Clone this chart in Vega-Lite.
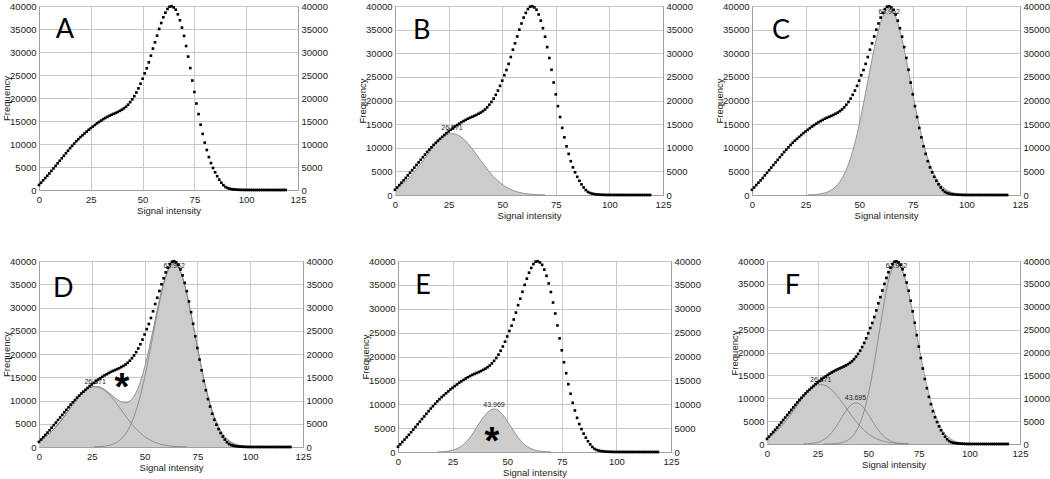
{
  "$schema": "https://vega.github.io/schema/vega-lite/v6.json",
  "padding": 0,
  "background": "white",
  "config": {
    "view": {"stroke": "#a0a0a0", "strokeWidth": 1},
    "axis": {"labelFont": "Liberation Sans", "labelFontSize": 9.5, "labelColor": "#222", "titleFont": "Liberation Sans", "titleFontSize": 9.5, "titleFontWeight": "normal", "titleColor": "#222", "domainColor": "#a0a0a0", "gridColor": "#c8c8c8", "gridWidth": 1, "ticks": false, "tickSize": 0, "labelPadding": 3}
  },
  "datasets": {
    "dots": [
      {"x":0,"y":1100},{"x":1,"y":1600},{"x":2,"y":2100},{"x":3,"y":2600},{"x":4,"y":3100},{"x":5,"y":3600},{"x":6,"y":4150},{"x":7,"y":4700},{"x":8,"y":5250},{"x":9,"y":5800},
      {"x":10,"y":6350},{"x":11,"y":6900},{"x":12,"y":7450},{"x":13,"y":8000},{"x":14,"y":8550},{"x":15,"y":9100},{"x":16,"y":9600},{"x":17,"y":10100},{"x":18,"y":10600},{"x":19,"y":11050},
      {"x":20,"y":11500},{"x":21,"y":11900},{"x":22,"y":12300},{"x":23,"y":12700},{"x":24,"y":13100},{"x":25,"y":13450},{"x":26,"y":13800},{"x":27,"y":14150},{"x":28,"y":14500},{"x":29,"y":14800},
      {"x":30,"y":15100},{"x":31,"y":15400},{"x":32,"y":15650},{"x":33,"y":15900},{"x":34,"y":16150},{"x":35,"y":16350},{"x":36,"y":16550},{"x":37,"y":16750},{"x":38,"y":16950},{"x":39,"y":17200},
      {"x":40,"y":17450},{"x":41,"y":17750},{"x":42,"y":18100},{"x":43,"y":18550},{"x":44,"y":19100},{"x":45,"y":19700},{"x":46,"y":20400},{"x":47,"y":21200},{"x":48,"y":22100},{"x":49,"y":23100},
      {"x":50,"y":24200},{"x":51,"y":25350},{"x":52,"y":26450},{"x":53,"y":27750},{"x":54,"y":29200},{"x":55,"y":30750},{"x":56,"y":32100},{"x":57,"y":33550},{"x":58,"y":35000},{"x":59,"y":36300},
      {"x":60,"y":37550},{"x":61,"y":38550},{"x":62,"y":39350},{"x":63,"y":39850},{"x":64,"y":39950},{"x":65,"y":39700},{"x":66,"y":39200},{"x":67,"y":38200},{"x":68,"y":36900},{"x":69,"y":35300},
      {"x":70,"y":33500},{"x":71,"y":31300},{"x":72,"y":29000},{"x":73,"y":26500},{"x":74,"y":23800},{"x":75,"y":21300},{"x":76,"y":18800},{"x":77,"y":16500},{"x":78,"y":14200},{"x":79,"y":12200},
      {"x":80,"y":10300},{"x":81,"y":8700},{"x":82,"y":7150},{"x":83,"y":5850},{"x":84,"y":4800},{"x":85,"y":3850},{"x":86,"y":3000},{"x":87,"y":2250},{"x":88,"y":1600},{"x":89,"y":1050},
      {"x":90,"y":650},{"x":91,"y":420},{"x":92,"y":280},{"x":93,"y":190},{"x":94,"y":130},{"x":95,"y":90},{"x":96,"y":60},{"x":97,"y":40},{"x":98,"y":25},{"x":99,"y":15},
      {"x":100,"y":10},{"x":101,"y":8},{"x":102,"y":6},{"x":103,"y":5},{"x":104,"y":5},{"x":105,"y":4},{"x":106,"y":4},{"x":107,"y":3},{"x":108,"y":3},{"x":109,"y":3},
      {"x":110,"y":2},{"x":111,"y":2},{"x":112,"y":2},{"x":113,"y":2},{"x":114,"y":1},{"x":115,"y":1},{"x":116,"y":1},{"x":117,"y":1},{"x":118,"y":1},{"x":119,"y":1}
    ],
    "gauss": [
      {"x":0,"g1":1358,"s13":1358},
      {"x":2,"g1":1884,"s13":1884},
      {"x":4,"g1":2547,"s13":2547},
      {"x":6,"g1":3357,"s13":3357},
      {"x":8,"g1":4311,"s13":4311},
      {"x":10,"g1":5399,"s13":5399},
      {"x":12,"g1":6590,"s13":6590},
      {"x":14,"g1":7840,"s13":7840},
      {"x":16,"g1":9092,"s13":9092},
      {"x":18,"g1":10277,"g2":22,"s13":10277},
      {"x":20,"g1":11322,"g2":55,"s13":11322},
      {"x":22,"g1":12159,"g2":123,"s13":12159},
      {"x":24,"g1":12728,"g2":260,"s13":12728},
      {"x":26,"g1":12987,"g2":510,"g3":29,"s13":13016},
      {"x":28,"g1":12916,"g2":933,"g3":61,"g3f":7,"s13":12977},
      {"x":30,"g1":12520,"g2":1590,"g3":124,"g3f":18,"s13":12644},
      {"x":32,"g1":11830,"g2":2519,"g3":239,"g3f":43,"s13":12069},
      {"x":34,"g1":10895,"g2":3721,"g3":444,"g3f":99,"s13":11339},
      {"x":36,"g1":9781,"g2":5117,"g3":792,"g3f":215,"s13":10573},
      {"x":38,"g1":8559,"g2":6557,"g3":1358,"g3f":442,"s13":9917},
      {"x":40,"g1":7301,"g2":7825,"g3":2237,"g3f":859,"s13":9538},
      {"x":42,"g1":6069,"g2":8695,"g3":3543,"g3f":1586,"s13":9612},
      {"x":44,"g1":4918,"g2":9000,"g3":5388,"g3f":2771,"s13":10306},
      {"x":46,"g1":3884,"g2":8676,"g3":7872,"g3f":4598,"s13":11756},
      {"x":48,"g1":2991,"g2":7790,"g3":11048,"g3f":7225,"s13":14039},
      {"x":50,"g1":2245,"g2":6513,"g3":14903,"g3f":10772,"s13":17148},
      {"x":52,"g1":1642,"g2":5073,"g3":19316,"g3f":15215,"s13":20958},
      {"x":54,"g1":1170,"g2":3680,"g3":24048,"g3f":20382,"s13":25218},
      {"x":56,"g1":813,"g2":2486,"g3":28772,"g3f":25884,"s13":29585},
      {"x":58,"g1":551,"g2":1564,"g3":33069,"g3f":31166,"s13":33620},
      {"x":60,"g1":364,"g2":917,"g3":36518,"g3f":35574,"s13":36882},
      {"x":62,"g1":234,"g2":500,"g3":38746,"g3f":38501,"s13":38980},
      {"x":64,"g1":147,"g2":254,"g3":39500,"g3f":39500,"s13":39647},
      {"x":66,"g1":90,"g2":120,"g3":38688,"g3f":38688,"s13":38778},
      {"x":68,"g1":54,"g2":53,"g3":36407,"g3f":36407,"s13":36461},
      {"x":70,"g1":31,"g2":22,"g3":32919,"g3f":32919,"s13":32950},
      {"x":72,"g3":28598,"g3f":28598,"s13":28615},
      {"x":74,"g3":23866,"g3f":23866,"s13":23876},
      {"x":76,"g3":19138,"g3f":19138,"s13":19138},
      {"x":78,"g3":14745,"g3f":14745,"s13":14745},
      {"x":80,"g3":10918,"g3f":10918,"s13":10918},
      {"x":82,"g3":7762,"g3f":7762,"s13":7762},
      {"x":84,"g3":5305,"g3f":5305,"s13":5305},
      {"x":86,"g3":3484,"g3f":3484,"s13":3484},
      {"x":88,"g3":2197,"g3f":2197,"s13":2197},
      {"x":90,"g3":1331,"g3f":1331,"s13":1331},
      {"x":92,"g3":775,"g3f":775,"s13":775},
      {"x":94,"g3":434,"g3f":434,"s13":434},
      {"x":96,"g3":233,"g3f":233,"s13":233},
      {"x":98,"g3":120,"g3f":120,"s13":120},
      {"x":100,"g3":60,"g3f":60,"s13":60}
    ],
    "notes": [
      {"p":"A","k":"L","x":12.5,"y":34700,"t":"A"},
      {"p":"B","k":"L","x":12.5,"y":34800,"t":"B"},
      {"p":"C","k":"L","x":13.5,"y":34700,"t":"C"},
      {"p":"D","k":"L","x":11.5,"y":34000,"t":"D"},
      {"p":"E","k":"L","x":11.5,"y":34700,"t":"E"},
      {"p":"F","k":"L","x":12.5,"y":34600,"t":"F"},
      {"p":"B","k":"P","x":26.571,"y":14100,"t":"26.571"},
      {"p":"C","k":"P","x":63.962,"y":38700,"t":"63.962"},
      {"p":"D","k":"P","x":26.571,"y":13900,"t":"26.571"},
      {"p":"D","k":"P","x":63.962,"y":39000,"t":"63.962"},
      {"p":"E","k":"P","x":43.969,"y":9900,"t":"43.969"},
      {"p":"F","k":"P","x":26.571,"y":13900,"t":"26.571"},
      {"p":"F","k":"P","x":43.695,"y":9950,"t":"43.695"},
      {"p":"F","k":"P","x":63.962,"y":38800,"t":"63.962"},
      {"p":"D","k":"S","x":39.3,"y":14600,"t":"*"},
      {"p":"E","k":"S","x":43,"y":4000,"t":"*"}
    ]
  },
  "spacing": 34,
  "vconcat": [
    {
      "spacing": 19,
      "hconcat": [
        {
          "width": 259, "height": 184,
          "encoding": {"x": {"field":"x","type":"quantitative","scale":{"domain":[0,125],"nice":false,"zero":false},"axis":{"title":"Signal intensity","values":[0,25,50,75,100,125],"format":"d","labelFlush":false,"labelPadding":4,"titlePadding":2}}},
          "resolve": {"axis": {"y": "independent"}},
          "layer": [
            {"data":{"name":"dots"},"mark":{"type":"point","shape":"square","filled":true,"color":"#000","size":7,"opacity":1,"strokeWidth":0},
             "encoding":{"y":{"field":"y","type":"quantitative","scale":{"domain":[0,40000],"nice":false},"axis":{"title":"Frequency","orient":"left","format":"d","values":[0,5000,10000,15000,20000,25000,30000,35000,40000],"grid":true,"minExtent":27,"maxExtent":27,"titlePadding":1}}}},
            {"data":{"name":"notes"},"transform":[{"filter":"datum.p == 'A' && datum.k == 'L'"}],"mark":{"type":"text","font":"Lato","fontSize":27,"color":"#000","align":"center","baseline":"middle"},
             "encoding":{"text":{"field":"t"},"y":{"field":"y","type":"quantitative","scale":{"domain":[0,40000],"nice":false},"axis":{"orient":"right","title":null,"format":"d","values":[0,5000,10000,15000,20000,25000,30000,35000,40000],"grid":false,"minExtent":38,"maxExtent":38}}}}
          ]
        },
        {
          "width": 268, "height": 189,
          "encoding": {"x": {"field":"x","type":"quantitative","scale":{"domain":[0,125],"nice":false,"zero":false},"axis":{"title":"Signal intensity","values":[0,25,50,75,100,125],"format":"d","labelFlush":false,"labelPadding":4,"titlePadding":2}}},
          "resolve": {"axis": {"y": "independent"}},
          "layer": [
            {"data":{"name":"gauss"},"transform":[{"filter":{"field":"g1","valid":true}}],"mark":{"type":"area","color":"#cccccc","opacity":1,"interpolate":"monotone","line":{"color":"#7f7f7f","strokeWidth":0.8}},
             "encoding":{"y":{"field":"g1","type":"quantitative","scale":{"domain":[0,40000],"nice":false},"axis":null}}},
            {"data":{"name":"notes"},"transform":[{"filter":"datum.p == 'B' && datum.k == 'P'"}],"mark":{"type":"text","font":"Liberation Sans","fontSize":7,"color":"#222","align":"center","baseline":"middle"},
             "encoding":{"text":{"field":"t"},"y":{"field":"y","type":"quantitative","scale":{"domain":[0,40000],"nice":false},"axis":null}}},
            {"data":{"name":"dots"},"mark":{"type":"point","shape":"square","filled":true,"color":"#000","size":7,"opacity":1,"strokeWidth":0},
             "encoding":{"y":{"field":"y","type":"quantitative","scale":{"domain":[0,40000],"nice":false},"axis":{"title":"Frequency","orient":"left","format":"d","values":[0,5000,10000,15000,20000,25000,30000,35000,40000],"grid":true,"minExtent":27,"maxExtent":27,"titlePadding":1}}}},
            {"data":{"name":"notes"},"transform":[{"filter":"datum.p == 'B' && datum.k == 'L'"}],"mark":{"type":"text","font":"Lato","fontSize":27,"color":"#000","align":"center","baseline":"middle"},
             "encoding":{"text":{"field":"t"},"y":{"field":"y","type":"quantitative","scale":{"domain":[0,40000],"nice":false},"axis":{"orient":"right","title":null,"format":"d","values":[0,5000,10000,15000,20000,25000,30000,35000,40000],"grid":false,"minExtent":30,"maxExtent":30}}}}
          ]
        },
        {
          "width": 268, "height": 189,
          "encoding": {"x": {"field":"x","type":"quantitative","scale":{"domain":[0,125],"nice":false,"zero":false},"axis":{"title":"Signal intensity","values":[0,25,50,75,100,125],"format":"d","labelFlush":false,"labelPadding":4,"titlePadding":2}}},
          "resolve": {"axis": {"y": "independent"}},
          "layer": [
            {"data":{"name":"gauss"},"transform":[{"filter":{"field":"g3","valid":true}}],"mark":{"type":"area","color":"#cccccc","opacity":1,"interpolate":"monotone","line":{"color":"#7f7f7f","strokeWidth":0.8}},
             "encoding":{"y":{"field":"g3","type":"quantitative","scale":{"domain":[0,40000],"nice":false},"axis":null}}},
            {"data":{"name":"notes"},"transform":[{"filter":"datum.p == 'C' && datum.k == 'P'"}],"mark":{"type":"text","font":"Liberation Sans","fontSize":7,"color":"#222","align":"center","baseline":"middle"},
             "encoding":{"text":{"field":"t"},"y":{"field":"y","type":"quantitative","scale":{"domain":[0,40000],"nice":false},"axis":null}}},
            {"data":{"name":"dots"},"mark":{"type":"point","shape":"square","filled":true,"color":"#000","size":7,"opacity":1,"strokeWidth":0},
             "encoding":{"y":{"field":"y","type":"quantitative","scale":{"domain":[0,40000],"nice":false},"axis":{"title":"Frequency","orient":"left","format":"d","values":[0,5000,10000,15000,20000,25000,30000,35000,40000],"grid":true,"minExtent":27,"maxExtent":27,"titlePadding":1}}}},
            {"data":{"name":"notes"},"transform":[{"filter":"datum.p == 'C' && datum.k == 'L'"}],"mark":{"type":"text","font":"Lato","fontSize":27,"color":"#000","align":"center","baseline":"middle"},
             "encoding":{"text":{"field":"t"},"y":{"field":"y","type":"quantitative","scale":{"domain":[0,40000],"nice":false},"axis":{"orient":"right","title":null,"format":"d","values":[0,5000,10000,15000,20000,25000,30000,35000,40000],"grid":false,"minExtent":30,"maxExtent":30}}}}
          ]
        }
      ]
    },
    {
      "spacing": 20,
      "hconcat": [
        {
          "width": 264, "height": 186,
          "encoding": {"x": {"field":"x","type":"quantitative","scale":{"domain":[0,125],"nice":false,"zero":false},"axis":{"title":"Signal intensity","values":[0,25,50,75,100,125],"format":"d","labelFlush":false,"labelPadding":4,"titlePadding":2}}},
          "resolve": {"axis": {"y": "independent"}},
          "layer": [
            {"data":{"name":"gauss"},"transform":[{"filter":{"field":"s13","valid":true}}],"mark":{"type":"area","color":"#cccccc","opacity":1,"interpolate":"monotone","line":{"color":"#7f7f7f","strokeWidth":0.8}},
             "encoding":{"y":{"field":"s13","type":"quantitative","scale":{"domain":[0,40000],"nice":false},"axis":null}}},
            {"data":{"name":"gauss"},"transform":[{"filter":{"field":"g1","valid":true}}],"mark":{"type":"line","color":"#7f7f7f","strokeWidth":0.8,"interpolate":"monotone"},
             "encoding":{"y":{"field":"g1","type":"quantitative","scale":{"domain":[0,40000],"nice":false},"axis":null}}},
            {"data":{"name":"gauss"},"transform":[{"filter":{"field":"g3","valid":true}}],"mark":{"type":"line","color":"#7f7f7f","strokeWidth":0.8,"interpolate":"monotone"},
             "encoding":{"y":{"field":"g3","type":"quantitative","scale":{"domain":[0,40000],"nice":false},"axis":null}}},
            {"data":{"name":"notes"},"transform":[{"filter":"datum.p == 'D' && datum.k == 'P'"}],"mark":{"type":"text","font":"Liberation Sans","fontSize":7,"color":"#222","align":"center","baseline":"middle"},
             "encoding":{"text":{"field":"t"},"y":{"field":"y","type":"quantitative","scale":{"domain":[0,40000],"nice":false},"axis":null}}},
            {"data":{"name":"dots"},"mark":{"type":"point","shape":"square","filled":true,"color":"#000","size":7,"opacity":1,"strokeWidth":0},
             "encoding":{"y":{"field":"y","type":"quantitative","scale":{"domain":[0,40000],"nice":false},"axis":{"title":"Frequency","orient":"left","format":"d","values":[0,5000,10000,15000,20000,25000,30000,35000,40000],"grid":true,"minExtent":27,"maxExtent":27,"titlePadding":1}}}},
            {"data":{"name":"notes"},"transform":[{"filter":"datum.p == 'D' && datum.k == 'S'"}],"mark":{"type":"text","font":"Liberation Sans","fontSize":38,"fontWeight":"bold","color":"#000","align":"center","baseline":"alphabetic","dy":21},
             "encoding":{"text":{"field":"t"},"y":{"field":"y","type":"quantitative","scale":{"domain":[0,40000],"nice":false},"axis":null}}},
            {"data":{"name":"notes"},"transform":[{"filter":"datum.p == 'D' && datum.k == 'L'"}],"mark":{"type":"text","font":"Lato","fontSize":27,"color":"#000","align":"center","baseline":"middle"},
             "encoding":{"text":{"field":"t"},"y":{"field":"y","type":"quantitative","scale":{"domain":[0,40000],"nice":false},"axis":{"orient":"right","title":null,"format":"d","values":[0,5000,10000,15000,20000,25000,30000,35000,40000],"grid":false,"minExtent":35,"maxExtent":35}}}}
          ]
        },
        {
          "width": 273, "height": 191,
          "encoding": {"x": {"field":"x","type":"quantitative","scale":{"domain":[0,125],"nice":false,"zero":false},"axis":{"title":"Signal intensity","values":[0,25,50,75,100,125],"format":"d","labelFlush":false,"labelPadding":4,"titlePadding":2}}},
          "resolve": {"axis": {"y": "independent"}},
          "layer": [
            {"data":{"name":"gauss"},"transform":[{"filter":{"field":"g2","valid":true}}],"mark":{"type":"area","color":"#cccccc","opacity":1,"interpolate":"monotone","line":{"color":"#7f7f7f","strokeWidth":0.8}},
             "encoding":{"y":{"field":"g2","type":"quantitative","scale":{"domain":[0,40000],"nice":false},"axis":null}}},
            {"data":{"name":"notes"},"transform":[{"filter":"datum.p == 'E' && datum.k == 'P'"}],"mark":{"type":"text","font":"Liberation Sans","fontSize":7,"color":"#222","align":"center","baseline":"middle"},
             "encoding":{"text":{"field":"t"},"y":{"field":"y","type":"quantitative","scale":{"domain":[0,40000],"nice":false},"axis":null}}},
            {"data":{"name":"dots"},"mark":{"type":"point","shape":"square","filled":true,"color":"#000","size":7,"opacity":1,"strokeWidth":0},
             "encoding":{"y":{"field":"y","type":"quantitative","scale":{"domain":[0,40000],"nice":false},"axis":{"title":"Frequency","orient":"left","format":"d","values":[0,5000,10000,15000,20000,25000,30000,35000,40000],"grid":true,"minExtent":27,"maxExtent":27,"titlePadding":1}}}},
            {"data":{"name":"notes"},"transform":[{"filter":"datum.p == 'E' && datum.k == 'S'"}],"mark":{"type":"text","font":"Liberation Sans","fontSize":38,"fontWeight":"bold","color":"#000","align":"center","baseline":"alphabetic","dy":21},
             "encoding":{"text":{"field":"t"},"y":{"field":"y","type":"quantitative","scale":{"domain":[0,40000],"nice":false},"axis":null}}},
            {"data":{"name":"notes"},"transform":[{"filter":"datum.p == 'E' && datum.k == 'L'"}],"mark":{"type":"text","font":"Lato","fontSize":27,"color":"#000","align":"center","baseline":"middle"},
             "encoding":{"text":{"field":"t"},"y":{"field":"y","type":"quantitative","scale":{"domain":[0,40000],"nice":false},"axis":{"orient":"right","title":null,"format":"d","values":[0,5000,10000,15000,20000,25000,30000,35000,40000],"grid":false,"minExtent":36,"maxExtent":36}}}}
          ]
        },
        {
          "width": 253, "height": 183,
          "encoding": {"x": {"field":"x","type":"quantitative","scale":{"domain":[0,125],"nice":false,"zero":false},"axis":{"title":"Signal intensity","values":[0,25,50,75,100,125],"format":"d","labelFlush":false,"labelPadding":4,"titlePadding":2}}},
          "resolve": {"axis": {"y": "independent"}},
          "layer": [
            {"data":{"name":"dots"},"mark":{"type":"area","color":"#cccccc","opacity":1,"interpolate":"monotone"},
             "encoding":{"y":{"field":"y","type":"quantitative","scale":{"domain":[0,40000],"nice":false},"axis":null}}},
            {"data":{"name":"gauss"},"transform":[{"filter":{"field":"g1","valid":true}}],"mark":{"type":"line","color":"#7f7f7f","strokeWidth":0.8,"interpolate":"monotone"},
             "encoding":{"y":{"field":"g1","type":"quantitative","scale":{"domain":[0,40000],"nice":false},"axis":null}}},
            {"data":{"name":"gauss"},"transform":[{"filter":{"field":"g2","valid":true}}],"mark":{"type":"line","color":"#7f7f7f","strokeWidth":0.8,"interpolate":"monotone"},
             "encoding":{"y":{"field":"g2","type":"quantitative","scale":{"domain":[0,40000],"nice":false},"axis":null}}},
            {"data":{"name":"gauss"},"transform":[{"filter":{"field":"g3f","valid":true}}],"mark":{"type":"line","color":"#7f7f7f","strokeWidth":0.8,"interpolate":"monotone"},
             "encoding":{"y":{"field":"g3f","type":"quantitative","scale":{"domain":[0,40000],"nice":false},"axis":null}}},
            {"data":{"name":"notes"},"transform":[{"filter":"datum.p == 'F' && datum.k == 'P'"}],"mark":{"type":"text","font":"Liberation Sans","fontSize":7,"color":"#222","align":"center","baseline":"middle"},
             "encoding":{"text":{"field":"t"},"y":{"field":"y","type":"quantitative","scale":{"domain":[0,40000],"nice":false},"axis":null}}},
            {"data":{"name":"dots"},"mark":{"type":"point","shape":"square","filled":true,"color":"#000","size":7,"opacity":1,"strokeWidth":0},
             "encoding":{"y":{"field":"y","type":"quantitative","scale":{"domain":[0,40000],"nice":false},"axis":{"title":"Frequency","orient":"left","format":"d","values":[0,5000,10000,15000,20000,25000,30000,35000,40000],"grid":true,"minExtent":27,"maxExtent":27,"titlePadding":1}}}},
            {"data":{"name":"notes"},"transform":[{"filter":"datum.p == 'F' && datum.k == 'L'"}],"mark":{"type":"text","font":"Lato","fontSize":27,"color":"#000","align":"center","baseline":"middle"},
             "encoding":{"text":{"field":"t"},"y":{"field":"y","type":"quantitative","scale":{"domain":[0,40000],"nice":false},"axis":{"orient":"right","title":null,"format":"d","values":[0,5000,10000,15000,20000,25000,30000,35000,40000],"grid":false,"minExtent":30,"maxExtent":30}}}}
          ]
        }
      ]
    }
  ]
}
